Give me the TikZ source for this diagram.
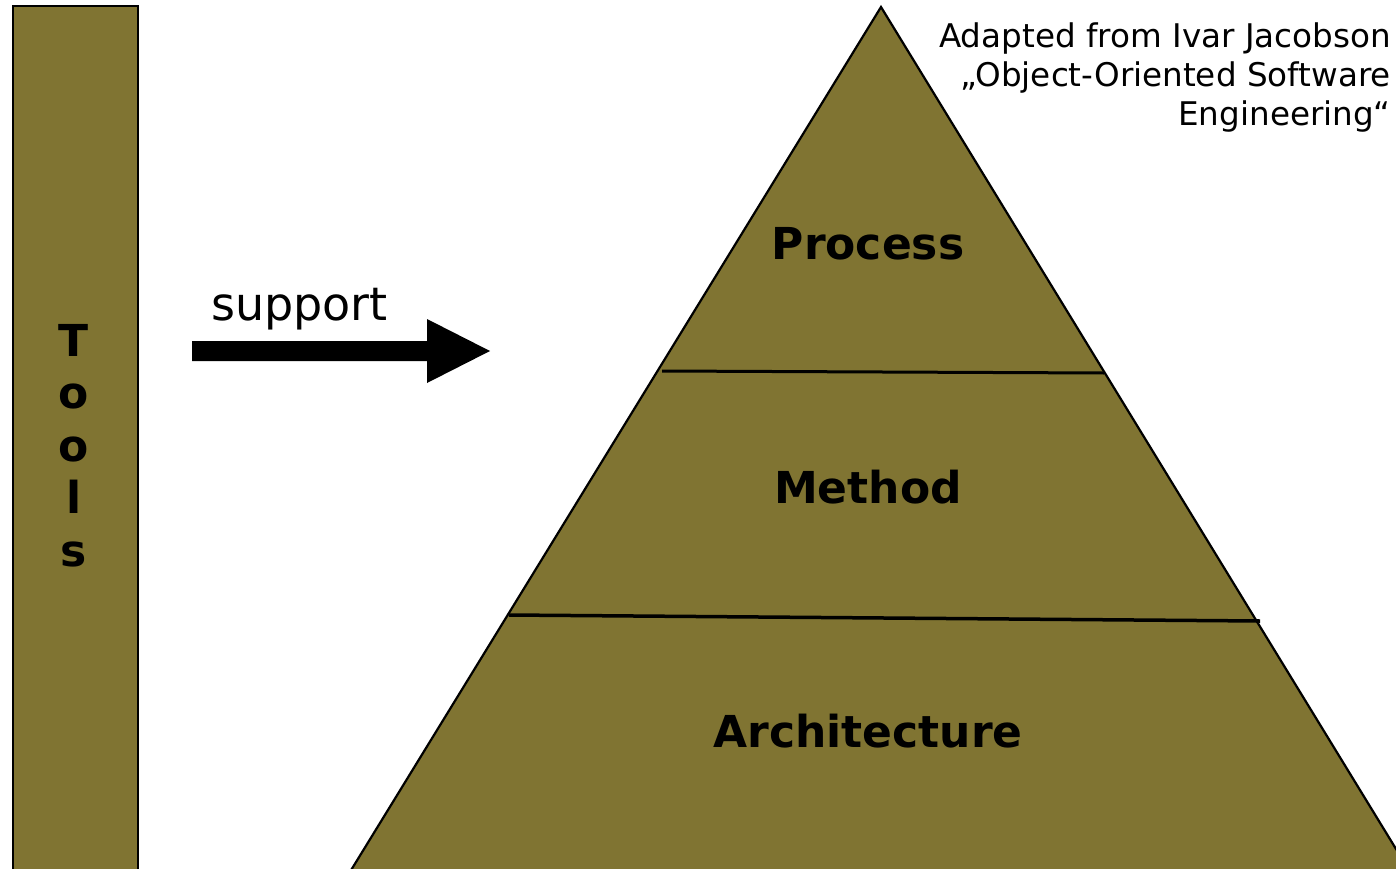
\documentclass[tikz,border=0pt]{standalone}
\usepackage{fontspec}
\setmainfont{DejaVu Sans}
\definecolor{olive}{RGB}{128,116,50}
\tikzset{
  layer/.style={font=\fontsize{44}{50}\selectfont\bfseries, anchor=base},
  divider/.style={line width=3pt},
}
\begin{document}
\begin{tikzpicture}[x=1pt,y=-1pt]
\useasboundingbox (0,0) rectangle (1396,869);
\clip (0,0) rectangle (1396,869);
% tools bar
\draw[fill=olive, line width=2.5pt] (13,6) rectangle (138,880);
\node[font=\fontsize{44}{52.5}\selectfont\bfseries, anchor=base, align=center] (tools) at (74,566) {T\\o\\o\\l\\s};
% pyramid
\coordinate (apex) at (881,7);
\draw[fill=olive, line width=2.2pt, line join=miter] (apex) -- (345,880) -- (1415,880) -- cycle;
\coordinate (d1l) at (662,371);
\coordinate (d1r) at (1104,373);
\coordinate (d2l) at (509,615);
\coordinate (d2r) at (1260,621);
\draw[divider] (d1l) -- (d1r);
\draw[divider, line width=3.5pt] (d2l) -- (d2r);
\node[layer] (process) at (868,259) {Process};
\node[layer] (method) at (868,503) {Method};
\node[layer] (arch) at (868,747) {Architecture};
% arrow
\fill (192,341) -- (427,341) -- (427,319) -- (490,351) -- (427,383) -- (427,361) -- (192,361) -- cycle;
\node[font=\fontsize{46}{52}\selectfont, anchor=base west, inner sep=0pt] (support) at (211,320) {support};
% credit
\node[font=\fontsize{32.6}{38.7}\selectfont, anchor=north east, align=right, inner sep=0pt] (credit) at (1391,23)
  {Adapted from Ivar Jacobson\\„Object-Oriented Software\\Engineering“};
\end{tikzpicture}
\end{document}
